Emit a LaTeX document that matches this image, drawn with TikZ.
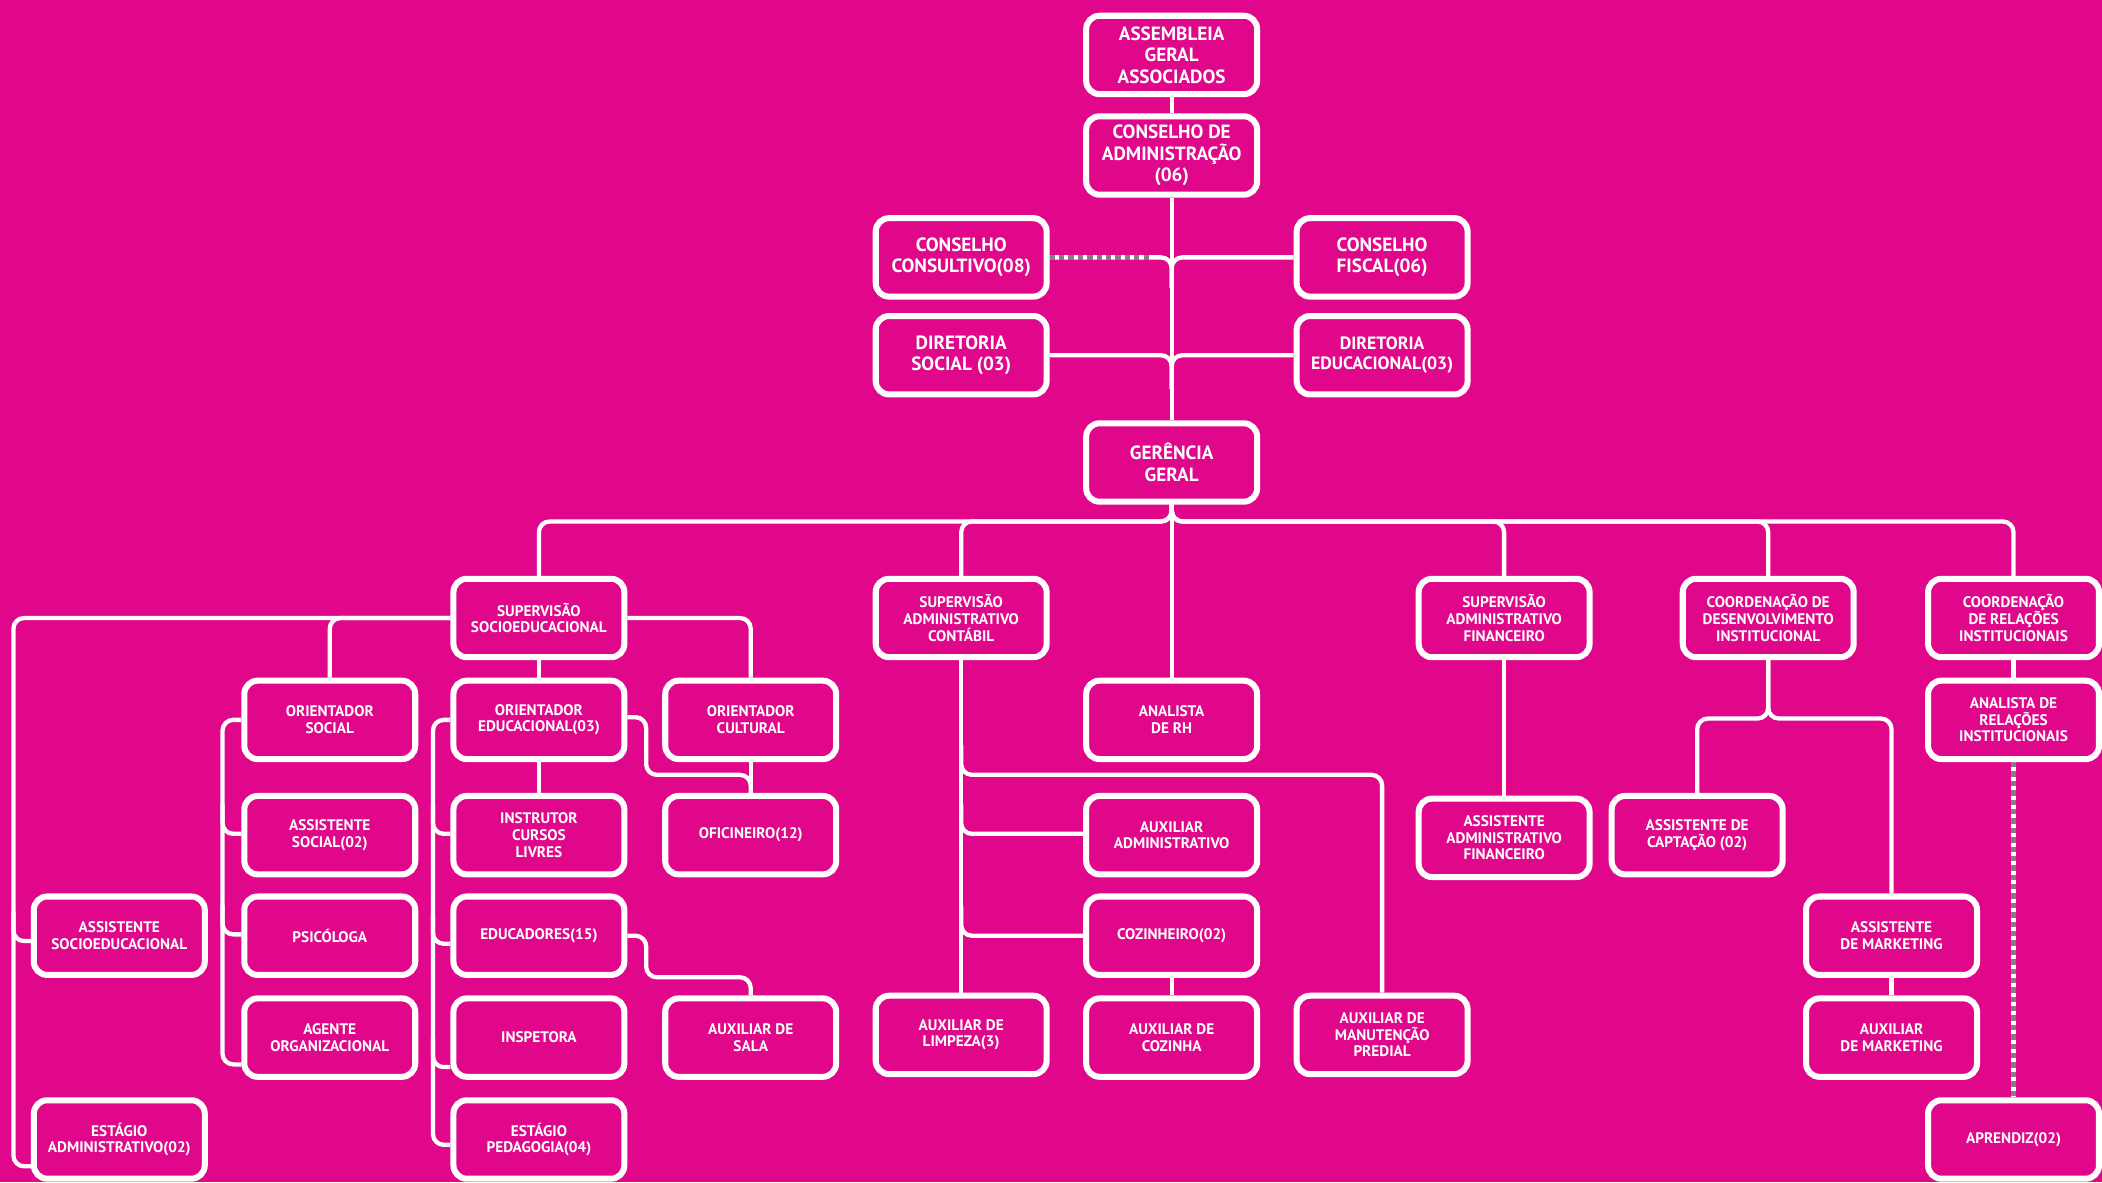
\documentclass[tikz,border=0pt]{standalone}
\usepackage{fontspec}
\setmainfont{PT Sans}
\pgfdeclarelayer{bgfill}
\pgfdeclarelayer{wires}
\pgfsetlayers{bgfill,wires,main}
\definecolor{bgmag}{RGB}{224,7,139}
\definecolor{dashgr}{RGB}{128,128,128}
\tikzset{
  box/.style={draw=white, line width=4.5pt, rounded corners=10pt, minimum width=127.5pt, minimum height=58.5pt, inner sep=0pt, align=center, text=white, font=\bfseries\fontsize{11.4}{12.4}\selectfont},
  bigbox/.style={box, font=\bfseries\fontsize{14.3}{16}\selectfont},
  midbox/.style={box, font=\bfseries\fontsize{13.3}{15}\selectfont},
  wire/.style={draw=white, line width=3.2pt, rounded corners=8pt},
  dashov/.style={draw=dashgr, line width=3.2pt, dash pattern=on 4pt off 3pt},
}
\begin{document}
\begin{tikzpicture}[x=1pt, y=-1pt]
\useasboundingbox (0,0) rectangle (1568,882);
\begin{pgfonlayer}{bgfill}
\fill[bgmag] (0,0) rectangle (1568,882);
\end{pgfonlayer}

% top
\node[bigbox] (ag) at (874,41) {ASSEMBLEIA\\GERAL\\ASSOCIADOS};
\node[bigbox] (ca) at (874,116) {CONSELHO DE\\ADMINISTRAÇÃO\\(06)};
\node[bigbox] (cc) at (717,192) {CONSELHO\\CONSULTIVO(08)};
\node[bigbox] (cf) at (1031,192) {CONSELHO\\FISCAL(06)};
\node[bigbox] (ds) at (717,265) {DIRETORIA\\SOCIAL (03)};
\node[midbox] (de) at (1031,265) {DIRETORIA\\EDUCACIONAL(03)};
\node[bigbox] (gg) at (874,345) {GERÊNCIA\\GERAL};

% row 2
\node[box] (sso) at (402,461) {SUPERVISÃO\\SOCIOEDUCACIONAL};
\node[box] (sac) at (717,461) {SUPERVISÃO\\ADMINISTRATIVO\\CONTÁBIL};
\node[box] (saf) at (1122,461) {SUPERVISÃO\\ADMINISTRATIVO\\FINANCEIRO};
\node[box] (cdi) at (1319,461) {COORDENAÇÃO DE\\DESENVOLVIMENTO\\INSTITUCIONAL};
\node[box] (cri) at (1502,461) {COORDENAÇÃO\\DE RELAÇÕES\\INSTITUCIONAIS};

% row 3
\node[box] (os) at (246,537) {ORIENTADOR\\SOCIAL};
\node[box] (oe) at (402,537) {ORIENTADOR\\EDUCACIONAL(03)};
\node[box] (oc) at (560,537) {ORIENTADOR\\CULTURAL};
\node[box] (arh) at (874,537) {ANALISTA\\DE RH};
\node[box] (ari) at (1502,537) {ANALISTA DE\\RELAÇÕES\\INSTITUCIONAIS};

% row 4
\node[box] (asoc) at (246,623) {ASSISTENTE\\SOCIAL(02)};
\node[box] (ic) at (402,623) {INSTRUTOR\\CURSOS\\LIVRES};
\node[box] (of) at (560,623) {OFICINEIRO(12)};
\node[box] (aa) at (874,623) {AUXILIAR\\ADMINISTRATIVO};
\node[box] (aaf) at (1122,625) {ASSISTENTE\\ADMINISTRATIVO\\FINANCEIRO};
\node[box] (cap) at (1266,623) {ASSISTENTE DE\\CAPTAÇÃO (02)};

% row 5
\node[box] (ase) at (89,698) {ASSISTENTE\\SOCIOEDUCACIONAL};
\node[box] (psi) at (246,698) {PSICÓLOGA};
\node[box] (ed) at (402,698) {EDUCADORES(15)};
\node[box] (cz) at (874,698) {COZINHEIRO(02)};
\node[box] (amk) at (1411,698) {ASSISTENTE\\DE MARKETING};

% row 6
\node[box] (ao) at (246,774) {AGENTE\\ORGANIZACIONAL};
\node[box] (ins) at (402,774) {INSPETORA};
\node[box] (aus) at (560,774) {AUXILIAR DE\\SALA};
\node[box] (al) at (717,772) {AUXILIAR DE\\LIMPEZA(3)};
\node[box] (ac) at (874,774) {AUXILIAR DE\\COZINHA};
\node[box] (am) at (1031,772) {AUXILIAR DE\\MANUTENÇÃO\\PREDIAL};
\node[box] (auxmk) at (1411,774) {AUXILIAR\\DE MARKETING};

% row 7
\node[box] (eadm) at (89,850) {ESTÁGIO\\ADMINISTRATIVO(02)};
\node[box] (ep) at (402,850) {ESTÁGIO\\PEDAGOGIA(04)};
\node[box] (apr) at (1502,850) {APRENDIZ(02)};

\begin{pgfonlayer}{wires}
% top trunk
\draw[wire] (ag.south) -- (ca.north);
\draw[wire] (ca.south) -- (gg.north);
\draw[wire] (cc.east) -- (874,192) -- (874,215);
\draw[dashov] (cc.east) -- (858,192);
\draw[wire] (cf.west) -- (874,192) -- (874,215);
\draw[wire] (ds.east) -- (874,265) -- (874,290);
\draw[wire] (de.west) -- (874,265) -- (874,290);
% bus
\draw[wire] (gg.south) -- (874,389) -- (402,389) -- (sso.north);
\draw[wire] (gg.south) -- (874,389) -- (717,389) -- (sac.north);
\draw[wire] (gg.south) -- (arh.north);
\draw[wire] (gg.south) -- (874,389) -- (1122,389) -- (saf.north);
\draw[wire] (gg.south) -- (874,389) -- (1319,389) -- (cdi.north);
\draw[wire] (gg.south) -- (874,389) -- (1502,389) -- (cri.north);
% supervisao socioeducacional
\draw[wire] (sso.west) -- (246,461) -- (os.north);
\draw[wire] (sso.west) -- (10,461) -- (10,870) -- (eadm.west |- 0,870);
\draw[wire] (10,680) -- (10,702) -- (ase.west |- 0,702);
\draw[wire] (sso.east) -- (560,461) -- (oc.north);
\draw[wire] (sso.south) -- (oe.north);
\draw[wire] (oe.south) -- (ic.north);
\draw[wire] (oc.south) -- (of.north);
\draw[wire] (oe.east |- 0,535) -- (482,535) -- (482,578) -- (560,578) -- (of.north);
\draw[wire] (ed.east) -- (482,698) -- (482,729) -- (560,729) -- (aus.north);
% orientador educacional column
\draw[wire] (oe.west) -- (323,537) -- (323,854) -- (ep.west |- 0,854);
\draw[wire] (323,600) -- (323,622) -- (ic.west |- 0,622);
\draw[wire] (323,682) -- (323,704) -- (ed.west |- 0,704);
\draw[wire] (323,774) -- (323,796) -- (ins.west |- 0,796);
% orientador social column
\draw[wire] (os.west) -- (166,537) -- (166,794) -- (ao.west |- 0,794);
\draw[wire] (166,600) -- (166,622) -- (asoc.west |- 0,622);
\draw[wire] (166,675) -- (166,697) -- (psi.west |- 0,697);
% supervisao adm contabil
\draw[wire] (sac.south) -- (al.north);
\draw[wire] (717,556) -- (717,578) -- (1031,578) -- (am.north);
\draw[wire] (717,600) -- (717,622) -- (aa.west |- 0,622);
\draw[wire] (717,676) -- (717,698) -- (cz.west);
\draw[wire] (cz.south) -- (ac.north);
% financeiro
\draw[wire] (saf.south) -- (aaf.north);
% desenvolvimento
\draw[wire] (cdi.south) -- (1319,536) -- (1266,536) -- (cap.north);
\draw[wire] (cdi.south) -- (1319,536) -- (1411,536) -- (amk.north);
\draw[wire] (amk.south) -- (auxmk.north);
% relacoes
\draw[wire] (cri.south) -- (ari.north);
\draw[wire] (ari.south) -- (apr.north);
\draw[dashov] (ari.south) -- (apr.north);
\end{pgfonlayer}
\end{tikzpicture}
\end{document}
